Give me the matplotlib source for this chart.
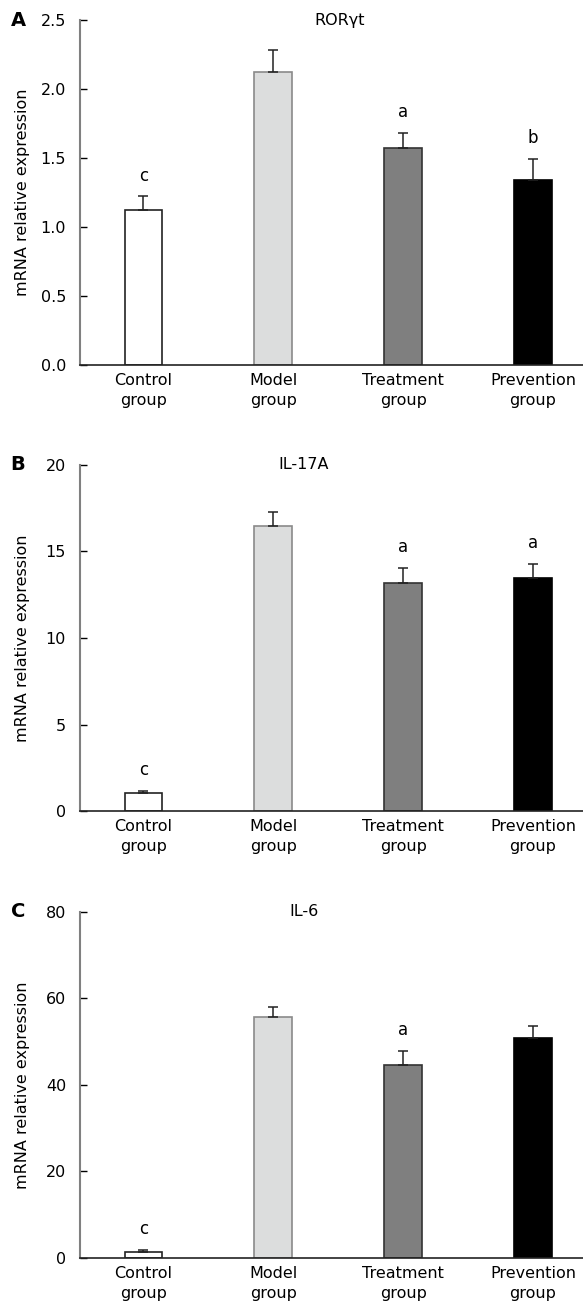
import matplotlib
matplotlib.use('Agg')
import matplotlib.pyplot as plt
import numpy as np

plt.rcParams['font.family'] = ['DejaVu Sans']

groups = ['Control\ngroup', 'Model\ngroup', 'Treatment\ngroup', 'Prevention\ngroup']
bar_colors = ['white', '#dcdddd', '#7f7f7f', 'black']
edge_colors = ['#222222', '#8a8a8a', '#333333', 'black']

# panel A - RORgt
ror_mean = [1.12, 2.12, 1.57, 1.34]
ror_err = [0.10, 0.16, 0.11, 0.15]
ror_sig = ['c', '', 'a', 'b']
ror_ticks = [0.0, 0.5, 1.0, 1.5, 2.0, 2.5]

# panel B - IL-17A
il17_mean = [1.02, 16.5, 13.15, 13.45]
il17_err = [0.12, 0.78, 0.88, 0.82]
il17_sig = ['c', '', 'a', 'a']
il17_ticks = [0, 5, 10, 15, 20]

# panel C - IL-6
il6_mean = [1.4, 55.6, 44.6, 50.9]
il6_err = [0.3, 2.4, 3.2, 2.8]
il6_sig = ['c', '', 'a', '']
il6_ticks = [0, 20, 40, 60, 80]

panels = [
    ('A', 'RORγt', ror_mean, ror_err, ror_sig, ror_ticks, '%.1f', 0.517),
    ('B', 'IL-17A', il17_mean, il17_err, il17_sig, il17_ticks, '%d', 0.445),
    ('C', 'IL-6', il6_mean, il6_err, il6_sig, il6_ticks, '%d', 0.445),
]
# axes boxes [left, bottom, width, height] in figure fraction
boxes = [
    [0.1372, 0.7215, 0.8628, 0.2632],
    [0.1372, 0.3804, 0.8628, 0.2644],
    [0.1372, 0.0393, 0.8628, 0.2640],
]

fig = plt.figure(figsize=(5.83, 13.09), dpi=100)

for (letter, title, mean, err, sig, ticks, fmt, tx), box in zip(panels, boxes):
    ax = fig.add_axes(box)
    x = np.arange(len(groups))
    ax.bar(x, mean, width=0.29, color=bar_colors, edgecolor=edge_colors,
           linewidth=1.2, zorder=2)
    ax.errorbar(x, mean, yerr=[np.zeros(len(err)), err], fmt='none',
                ecolor='#222222', elinewidth=1.1, capsize=3.8, capthick=1.1,
                zorder=3)
    for i in range(len(groups)):
        if sig[i]:
            ax.annotate(sig[i], (x[i], mean[i] + err[i]), xytext=(0, 15),
                        textcoords='offset points', ha='center', va='center',
                        fontsize=12)
    ax.set_xlim(-0.489, 3.386)
    ax.set_ylim(ticks[0], ticks[-1])
    ax.set_yticks(ticks)
    ax.set_yticklabels([fmt % t for t in ticks])
    ax.set_xticks(x)
    ax.set_xticklabels(groups, fontsize=11.5, linespacing=1.4)
    ax.tick_params(axis='x', length=0, pad=6)
    ax.tick_params(axis='y', direction='in', length=5, width=1, pad=10,
                   labelsize=11.5)
    ax.spines['top'].set_visible(False)
    ax.spines['right'].set_visible(False)
    ax.spines['left'].set_color('#808080')
    ax.spines['left'].set_linewidth(1.5)
    ax.spines['bottom'].set_color('#222222')
    ax.spines['bottom'].set_linewidth(1.2)
    ax.set_ylabel('mRNA relative expression', fontsize=11.5)
    ax.yaxis.set_label_coords(-0.1, 0.5)
    ax.text(tx, 1.0, title, transform=ax.transAxes, ha='center', va='center',
            fontsize=11.5)
    ax.text(-0.123, 1.0, letter, transform=ax.transAxes, ha='center',
            va='center', fontsize=14, fontweight='bold')

fig.savefig('out.png', dpi=100)
